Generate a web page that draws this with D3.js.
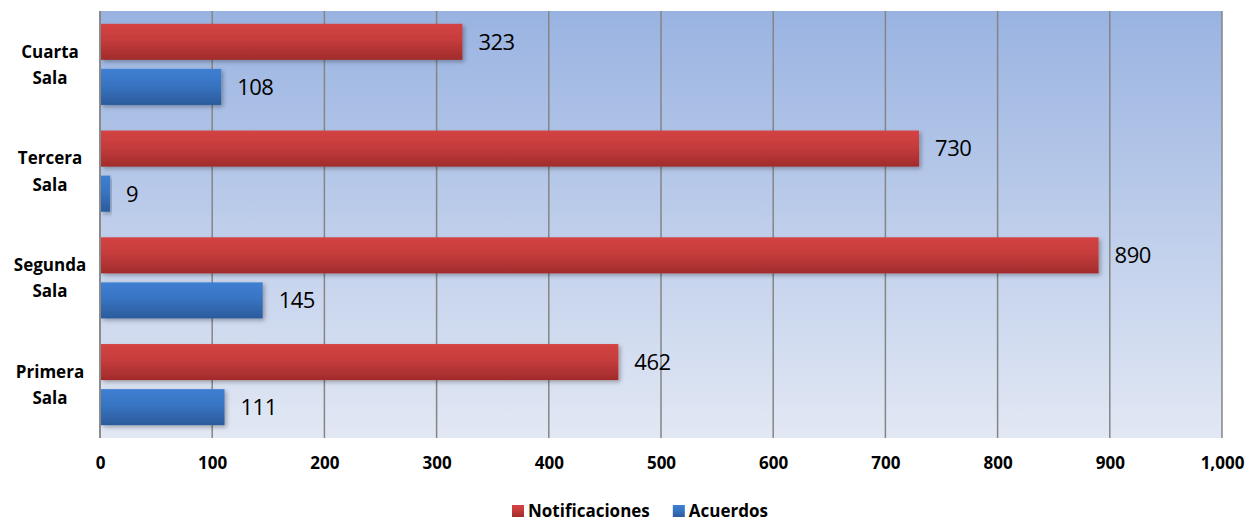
<!DOCTYPE html>
<html><head><meta charset="utf-8">
<script src="https://cdn.jsdelivr.net/npm/d3@7"></script>
<style>body{margin:0;background:#fff}svg{display:block}</style>
</head><body>
<svg id="c" width="1257" height="522"></svg>
<script>
const categories = ["Cuarta\nSala", "Tercera\nSala", "Segunda\nSala", "Primera\nSala"];
const seriesNames = ["Notificaciones", "Acuerdos"];
const notificaciones = [323, 730, 890, 462];
const acuerdos = [108, 9, 145, 111];
const xTicks = [0,100,200,300,400,500,600,700,800,900,1000];
const colors = {Notificaciones:["#d44343","#a12b2b"], Acuerdos:["#3e7fd2","#2b5b9b"]};

const svg = d3.select("#c");
const m = {l:100, r:35, t:11, b:84};
const W = 1257, H = 522;
const iw = W - m.l - m.r, ih = H - m.t - m.b;
const font = "'Open Sans', Lato, sans-serif";

const defs = svg.append("defs");
const bg = defs.append("linearGradient").attr("id","bg").attr("x1",0).attr("y1",0).attr("x2",0).attr("y2",1);
bg.append("stop").attr("offset","0%").attr("stop-color","#99b3e1");
bg.append("stop").attr("offset","100%").attr("stop-color","#e2e8f4");
seriesNames.forEach((s,i)=>{
  const g = defs.append("linearGradient").attr("id","g"+i).attr("x1",0).attr("y1",0).attr("x2",0).attr("y2",1);
  g.append("stop").attr("offset","0%").attr("stop-color",colors[s][0]);
  g.append("stop").attr("offset","45%").attr("stop-color",d3.interpolateRgb(colors[s][0],colors[s][1])(0.3));
  g.append("stop").attr("offset","100%").attr("stop-color",colors[s][1]);
});
const sh = defs.append("filter").attr("id","sh").attr("x","-5%").attr("y","-20%").attr("width","115%").attr("height","160%");
sh.append("feDropShadow").attr("dx",2).attr("dy",2).attr("stdDeviation",2).attr("flood-color","#000").attr("flood-opacity",0.3);

const g = svg.append("g").attr("transform",`translate(${m.l},${m.t})`);
const x = d3.scaleLinear().domain([0,1000]).range([0,iw]);
const y0 = d3.scaleBand().domain(categories).range([0,ih]).paddingInner(0.24).paddingOuter(0.12);
const y1 = d3.scaleBand().domain(seriesNames).range([0,y0.bandwidth()]).paddingInner(0.2);

g.append("rect").attr("width",iw).attr("height",ih).attr("fill","url(#bg)");

// gridlines
g.append("g").selectAll("line").data(xTicks).join("line")
  .attr("x1",d=>x(d)).attr("x2",d=>x(d)).attr("y1",0).attr("y2",ih)
  .attr("stroke","#858585").attr("stroke-width",1.5);

const data = categories.map((c,i)=>({cat:c, vals:[{s:"Notificaciones",v:notificaciones[i]},{s:"Acuerdos",v:acuerdos[i]}]}));

const grp = g.selectAll(".grp").data(data).join("g").attr("transform",d=>`translate(0,${y0(d.cat)})`);
grp.selectAll("rect").data(d=>d.vals).join("rect")
  .attr("x",1).attr("y",d=>y1(d.s)).attr("height",y1.bandwidth())
  .attr("width",d=>x(d.v)-1)
  .attr("fill",d=>`url(#g${seriesNames.indexOf(d.s)})`).attr("filter","url(#sh)");
grp.selectAll("text").data(d=>d.vals).join("text")
  .attr("x",d=>x(d.v)+16).attr("y",d=>y1(d.s)+y1.bandwidth()/2)
  .attr("dy","0.36em").attr("font-family",font).attr("font-size",22).attr("letter-spacing",-0.5).attr("fill","#000")
  .text(d=>d.v);

// left axis line
g.append("line").attr("x1",0).attr("x2",0).attr("y1",0).attr("y2",ih).attr("stroke","#858585").attr("stroke-width",1.5);

// x axis labels
const xa = g.append("g").attr("transform",`translate(0,${ih})`).call(d3.axisBottom(x).tickValues(xTicks).tickSize(0).tickPadding(19).tickFormat(d3.format(",")));
xa.select(".domain").remove();
xa.selectAll("text").attr("font-family",font).attr("font-size",17).attr("font-weight","bold").attr("fill","#000");

// y labels
const ya = g.append("g").call(d3.axisLeft(y0).tickSize(0).tickFormat(""));
ya.select(".domain").remove();
categories.forEach(c=>{
  const lines = c.split("\n");
  const t = g.append("text").attr("x",-50).attr("y",y0(c)+y0.bandwidth()/2)
    .attr("text-anchor","middle").attr("font-family",font).attr("font-size",17).attr("font-weight","bold");
  lines.forEach((l,i)=>t.append("tspan").attr("x",-50).attr("dy", i===0? "-0.4em":"1.55em").text(l));
});

// legend
const leg = svg.append("g").attr("transform","translate(512,505)");
let lx = 0;
seriesNames.forEach((s,i)=>{
  const it = leg.append("g").attr("transform",`translate(${lx},0)`);
  it.append("rect").attr("width",12).attr("height",12).attr("y",0).attr("fill",`url(#g${i})`);
  const t = it.append("text").attr("x",16).attr("y",6).attr("dy","0.36em").attr("font-family",font).attr("font-size",17).attr("font-weight","bold").text(s);
  lx += 16 + t.node().getComputedTextLength() + 23;
});
</script>
</body></html>
